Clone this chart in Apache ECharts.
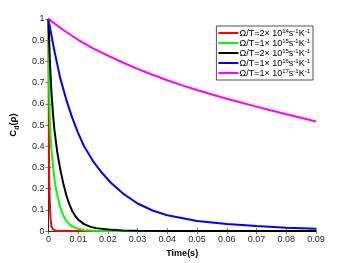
<!DOCTYPE html>
<html><head><meta charset="utf-8">
<script src="https://cdn.jsdelivr.net/npm/echarts@6/dist/echarts.min.js"></script>
<style>html,body{margin:0;padding:0;background:#fff}#c{width:350px;height:263px}</style>
</head><body><div id="c"></div>
<script>
var xTicks = ['0','0.01','0.02','0.03','0.04','0.05','0.06','0.07','0.08','0.09'];
var yTicks = ['0','0.1','0.2','0.3','0.4','0.5','0.6','0.7','0.8','0.9','1'];
var seriesNames = ['Ω/T=2× 10^14', 'Ω/T=1× 10^15', 'Ω/T=2× 10^15', 'Ω/T=1× 10^16', 'Ω/T=1× 10^17'];
var seriesColors = ['#ff0000', '#00ff00', '#000000', '#0000ff', '#ff00ff'];
var legendMant = ['2', '1', '2', '1', '1'];
var legendExp = ['14', '15', '15', '16', '17'];

var redT = [0, 0.0001, 0.0002, 0.0003, 0.0005, 0.0007, 0.001, 0.0015, 0.002, 0.003, 0.09];
var redV = [1, 0.6, 0.35, 0.22, 0.12, 0.06, 0.025, 0.008, 0.002, 0, 0];
var greenT = [0, 0.0002, 0.0004, 0.0007, 0.001, 0.0015, 0.002, 0.0025, 0.003, 0.004, 0.005, 0.006, 0.007, 0.008, 0.01, 0.012, 0.015, 0.02, 0.09];
var greenV = [1, 0.72, 0.58, 0.46, 0.39, 0.31, 0.25, 0.203, 0.167, 0.112, 0.074, 0.049, 0.033, 0.022, 0.01, 0.005, 0.002, 0.0005, 0];
var blackT = [0, 0.0005, 0.001, 0.0015, 0.002, 0.003, 0.004, 0.005, 0.006, 0.007, 0.008, 0.009, 0.01, 0.012, 0.014, 0.016, 0.02, 0.025, 0.03, 0.04, 0.09];
var blackV = [1, 0.8, 0.66, 0.56, 0.48, 0.37, 0.29, 0.225, 0.17, 0.128, 0.095, 0.072, 0.054, 0.033, 0.021, 0.014, 0.007, 0.003, 0.0015, 0.0005, 0];
var blueT = [0, 0.002, 0.004, 0.006, 0.008, 0.01, 0.012, 0.015, 0.018, 0.021, 0.025, 0.03, 0.035, 0.04, 0.05, 0.06, 0.07, 0.08, 0.09];
var blueV = [1, 0.85, 0.72, 0.62, 0.535, 0.462, 0.4, 0.33, 0.275, 0.228, 0.178, 0.13, 0.097, 0.075, 0.048, 0.034, 0.024, 0.016, 0.011];
var magT = [0, 0.005, 0.01, 0.015, 0.02, 0.025, 0.03, 0.035, 0.04, 0.045, 0.05, 0.055, 0.06, 0.065, 0.07, 0.075, 0.08, 0.085, 0.09];
var magV = [1, 0.948, 0.902, 0.862, 0.827, 0.795, 0.765, 0.737, 0.711, 0.687, 0.665, 0.644, 0.624, 0.605, 0.587, 0.569, 0.551, 0.534, 0.517];

function pairs(t, v) { return t.map(function (x, i) { return [x, v[i]]; }); }
var allData = [pairs(redT, redV), pairs(greenT, greenV), pairs(blackT, blackV), pairs(blueT, blueV), pairs(magT, magV)];

var axisCol = '#262626';
var font = 'Helvetica, Arial, "Liberation Sans", sans-serif';

var chart = echarts.init(document.getElementById('c'), null, {renderer: 'canvas'});
var option = {
  animation: false,
  backgroundColor: '#fff',
  grid: {left: 46, right: 34, top: 19, bottom: 29, containLabel: false},
  legend: {
    orient: 'vertical',
    right: 37, top: 26,
    itemGap: 0,
    itemWidth: 20, itemHeight: 2,
    icon: 'rect',
    padding: [2, 3, 2, 2],
    backgroundColor: '#fff',
    borderColor: axisCol, borderWidth: 0.8, borderRadius: 0,
    data: seriesNames,
    formatter: function (name) {
      var i = seriesNames.indexOf(name);
      return '{t|Ω/T=' + legendMant[i] + '× 10}{s|' + legendExp[i] + '}{t|s}{s|-1}{t|K}{s|-1}';
    },
    textStyle: {
      fontFamily: font, fontSize: 9, color: '#000', padding: [0, 0, 0, -4],
      rich: {
        t: {fontFamily: font, fontSize: 9, color: '#000', lineHeight: 10, verticalAlign: 'bottom'},
        s: {fontFamily: font, fontSize: 6, color: '#000', lineHeight: 10, verticalAlign: 'top'}
      }
    }
  },
  xAxis: [{
    type: 'value', min: 0, max: 0.09, interval: 0.01,
    name: 'Time(s)', nameLocation: 'middle', nameGap: 17,
    nameTextStyle: {fontFamily: font, fontSize: 9, fontWeight: 'bold', color: '#000'},
    axisLine: {show: true, lineStyle: {color: axisCol, width: 0.8}},
    axisTick: {show: true, inside: true, length: 3, lineStyle: {color: axisCol, width: 0.6}},
    axisLabel: {fontFamily: font, fontSize: 9, color: axisCol, margin: 4,
      formatter: function (v) { return xTicks[Math.round(v * 100)]; }},
    splitLine: {show: false}
  }, {
    type: 'value', min: 0, max: 0.09, interval: 0.01, position: 'top',
    axisLine: {show: true, lineStyle: {color: axisCol, width: 0.8}},
    axisTick: {show: true, inside: true, length: 3, lineStyle: {color: axisCol, width: 0.6}},
    axisLabel: {show: false}, splitLine: {show: false}
  }],
  yAxis: [{
    type: 'value', min: 0, max: 1, interval: 0.1,
    name: '{a|C}{b|d}{a|(ρ)}', nameLocation: 'middle', nameGap: 21, nameRotate: 90,
    nameTextStyle: {
      fontFamily: font, fontSize: 9.5, fontWeight: 'bold', color: '#000',
      rich: {
        a: {fontFamily: font, fontSize: 9.5, fontWeight: 'bold', color: '#000', lineHeight: 13, verticalAlign: 'top'},
        b: {fontFamily: font, fontSize: 7, fontWeight: 'bold', color: '#000', lineHeight: 13, verticalAlign: 'bottom'}
      }
    },
    axisLine: {show: true, lineStyle: {color: axisCol, width: 0.8}},
    axisTick: {show: true, inside: true, length: 3, lineStyle: {color: axisCol, width: 0.6}},
    axisLabel: {fontFamily: font, fontSize: 9, color: axisCol, margin: 4,
      formatter: function (v) { return yTicks[Math.round(v * 10)]; }},
    splitLine: {show: false}
  }, {
    type: 'value', min: 0, max: 1, interval: 0.1, position: 'right',
    axisLine: {show: true, lineStyle: {color: axisCol, width: 0.8}},
    axisTick: {show: true, inside: true, length: 3, lineStyle: {color: axisCol, width: 0.6}},
    axisLabel: {show: false}, splitLine: {show: false}
  }],
  series: allData.map(function (d, i) {
    return {
      name: seriesNames[i], type: 'line', data: d,
      xAxisIndex: 0, yAxisIndex: 0,
      showSymbol: false, symbol: 'none',
      smooth: false,
      clip: true,
      lineStyle: {color: seriesColors[i], width: 2},
      itemStyle: {color: seriesColors[i]}
    };
  })
};
chart.setOption(option);
</script></body></html>
